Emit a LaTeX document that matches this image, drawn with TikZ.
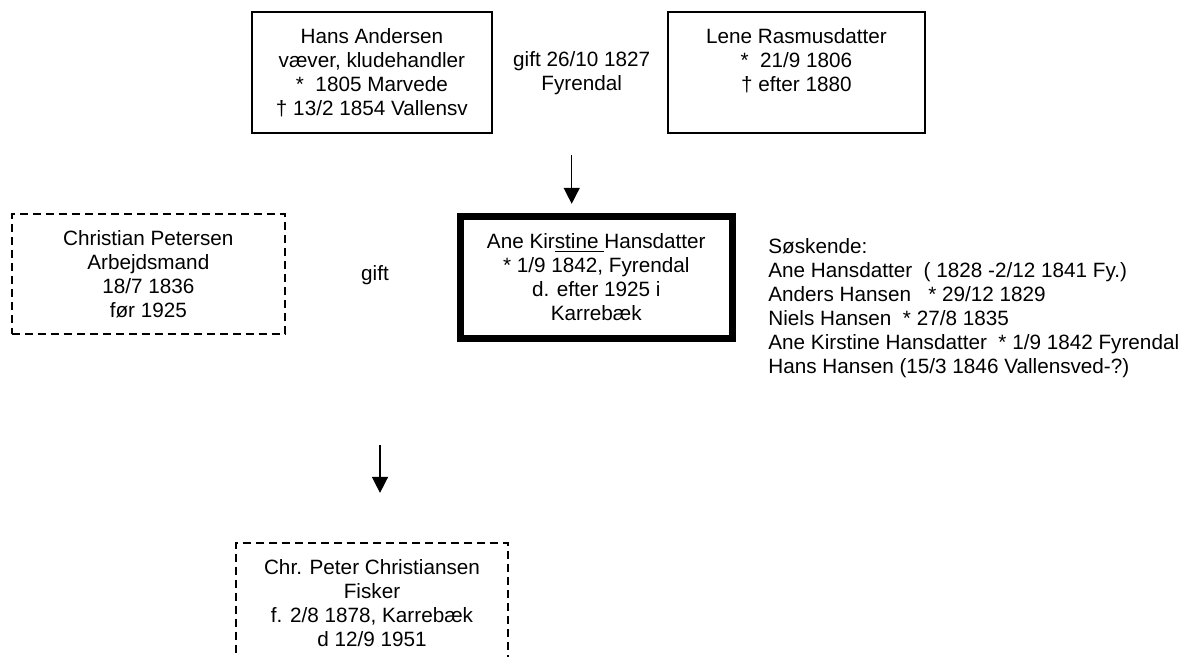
\documentclass[tikz,border=0pt]{standalone}
\usepackage{fontspec}
\setmainfont{Liberation Sans}
\usetikzlibrary{arrows.meta}

\newcommand\gfont{\fontsize{10.35}{12}\selectfont}

\tikzset{
  person/.style={draw, line width=0.7pt, align=center, inner sep=0pt, font=\gfont},
  ghost/.style={person, line width=1pt, dash pattern=on 4pt off 2.5pt},
  self/.style={person, line width=3.5pt},
  note/.style={inner sep=0pt, font=\gfont},
  arr/.style={-{Triangle[length=8pt,width=8pt]}, line width=0.75pt},
}

\begin{document}
\begin{tikzpicture}[x=0.5pt,y=-0.5pt]
  \useasboundingbox (0,0) rectangle (1194,657);

  % Parents
  \node[person, minimum width=120pt, minimum height=60.5pt] (hans) at (371.9,72.5)
    {Hans Andersen\\væver, kludehandler\\{}*\ \ 1805 Marvede\\† 13/2 1854 Vallensv};
  \node[person, minimum width=128.5pt, minimum height=60.5pt] (lene) at (796.4,72.5)
    {Lene Rasmusdatter\\{}*\ \ 21/9 1806\\† efter 1880\\~};
  \node[note, align=center] (wed1) at (581.7,73) {gift 26/10 1827\\Fyrendal};

  % Ane Kirstine and her husband
  \node[self, minimum width=136pt, minimum height=61pt] (ane) at (596.3,277.3)
    {Ane Kir\underline{stine\ }Hansdatter\\{}* 1/9 1842, Fyrendal\\d. efter 1925 i\\Karrebæk};
  \node[ghost, minimum width=136.5pt, minimum height=60pt] (chris) at (148.3,274)
    {Christian Petersen\\Arbejdsmand\\18/7 1836\\før 1925};
  \node[note] (wed2) at (375,275) {gift};

  % Siblings
  \node[note, align=left, anchor=west] (sibs) at (768,308)
    {Søskende:\\
     Ane Hansdatter\ \ ( 1828 -2/12 1841 Fy.)\\
     Anders Hansen\ \ \ * 29/12 1829\\
     Niels Hansen\ \ * 27/8 1835\\
     Ane Kirstine Hansdatter\ \ * 1/9 1842 Fyrendal\\
     Hans Hansen (15/3 1846 Vallensved-?)};

  % Son
  \node[ghost, minimum width=136pt, minimum height=60.5pt] (son) at (372,603.2)
    {Chr. Peter Christiansen\\Fisker\\f. 2/8 1878, Karrebæk\\d 12/9 1951};

  % Arrows
  \coordinate (pa) at (571.7,155);
  \coordinate (ka) at (380,445);
  \draw[arr, shorten >=4.5pt] (pa) -- (pa |- ane.north);
  \draw[arr, shorten >=24.4pt] (ka) -- (ka |- son.north);
\end{tikzpicture}
\end{document}
